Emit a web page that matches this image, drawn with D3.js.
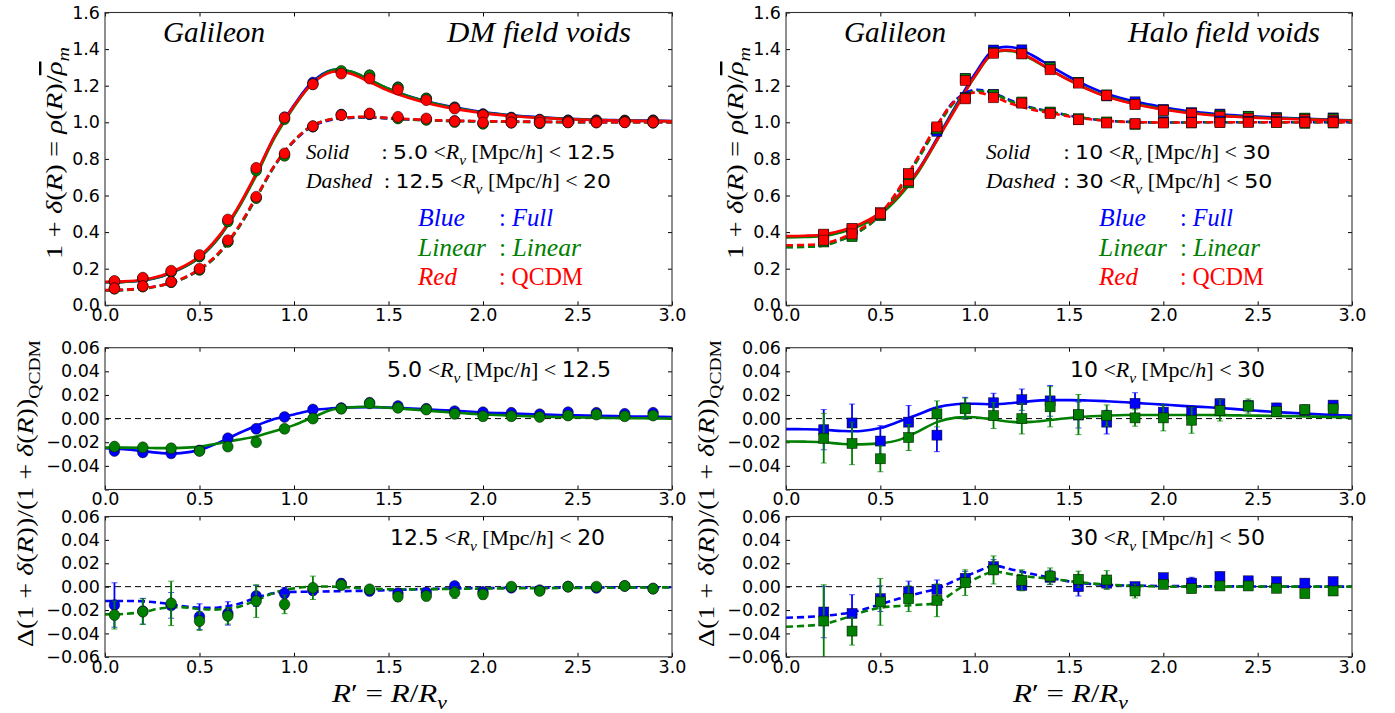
<!DOCTYPE html>
<html><head><meta charset="utf-8">
<script src="https://cdn.jsdelivr.net/npm/d3@7"></script>
<style>body{margin:0;background:#fff}svg{display:block}text{white-space:pre}</style>
</head><body>
<script>
// ---------------- DATA ----------------
const xTickVals = [0, 0.5, 1.0, 1.5, 2.0, 2.5, 3.0];
const yTickTop = [0, 0.2, 0.4, 0.6, 0.8, 1.0, 1.2, 1.4, 1.6];
const yTickDelta = [-0.06, -0.04, -0.02, 0, 0.02, 0.04, 0.06];

const rDM = [0.05,0.2,0.35,0.5,0.65,0.8,0.95,1.1,1.25,1.4,1.55,1.7,1.85,2.0,2.15,2.3,2.45,2.6,2.75,2.9];
const rHalo = [0.2,0.35,0.5,0.65,0.8,0.95,1.1,1.25,1.4,1.55,1.7,1.85,2.0,2.15,2.3,2.45,2.6,2.75,2.9];
const rFit = [0,0.1,0.2,0.3,0.4,0.5,0.6,0.7,0.8,0.9,1.0,1.1,1.2,1.3,1.4,1.5,1.6,1.7,1.8,1.9,2.0,2.1,2.2,2.3,2.4,2.5,2.6,2.7,2.8,2.9,3.0];

// DM field voids: profile points
const dmSolidQCDM   = [0.133,0.151,0.189,0.275,0.469,0.751,1.026,1.208,1.266,1.239,1.179,1.121,1.075,1.039,1.021,1.011,1.006,1.006,1.006,1.006];
const dmSolidFull   = [0.129,0.147,0.183,0.268,0.461,0.745,1.027,1.217,1.277,1.256,1.191,1.130,1.082,1.045,1.026,1.015,1.011,1.011,1.010,1.011];
const dmSolidLinear = [0.130,0.147,0.184,0.267,0.458,0.736,1.017,1.208,1.281,1.257,1.190,1.130,1.079,1.041,1.023,1.012,1.009,1.009,1.008,1.009];
const dmDashQCDM    = [0.093,0.105,0.129,0.200,0.356,0.593,0.830,0.979,1.039,1.048,1.030,1.021,1.006,0.999,0.999,0.999,1.000,1.000,1.000,1.000];
const dmDashFull    = [0.092,0.103,0.127,0.195,0.348,0.588,0.825,0.976,1.042,1.044,1.024,1.016,1.007,0.994,0.998,0.996,1.000,0.999,1.001,0.998];
const dmDashLinear  = [0.091,0.103,0.127,0.194,0.347,0.586,0.817,0.978,1.040,1.046,1.021,1.013,1.001,0.992,0.999,0.995,1.000,1.000,1.001,0.998];
// DM field voids: fitted profiles
const dmSolidFitQCDM   = [0.129,0.131,0.140,0.163,0.205,0.268,0.375,0.530,0.720,0.930,1.090,1.215,1.275,1.265,1.220,1.172,1.135,1.106,1.083,1.065,1.050,1.039,1.030,1.024,1.019,1.015,1.012,1.010,1.008,1.007,1.006];
const dmSolidFitFull   = [0.126,0.128,0.136,0.158,0.199,0.261,0.367,0.523,0.716,0.930,1.094,1.224,1.286,1.277,1.232,1.183,1.145,1.115,1.091,1.072,1.056,1.044,1.034,1.028,1.022,1.018,1.014,1.012,1.010,1.009,1.007];
const dmSolidFitLinear = [0.126,0.128,0.137,0.159,0.200,0.262,0.367,0.520,0.709,0.920,1.084,1.216,1.285,1.277,1.232,1.183,1.144,1.114,1.089,1.070,1.054,1.042,1.032,1.026,1.020,1.016,1.013,1.010,1.008,1.007,1.006];
const dmDashFitQCDM    = [0.083,0.085,0.093,0.110,0.143,0.198,0.285,0.420,0.593,0.770,0.900,0.984,1.018,1.028,1.030,1.024,1.018,1.013,1.010,1.008,1.006,1.005,1.004,1.003,1.002,1.002,1.001,1.001,1.001,1.000,1.000];
const dmDashFitFull    = [0.082,0.084,0.092,0.109,0.141,0.194,0.280,0.414,0.587,0.766,0.896,0.980,1.014,1.024,1.026,1.021,1.015,1.011,1.008,1.007,1.005,1.004,1.003,1.002,1.002,1.001,1.001,1.001,1.000,1.000,1.000];
const dmDashFitLinear  = [0.081,0.083,0.091,0.108,0.140,0.194,0.279,0.413,0.586,0.766,0.899,0.984,1.018,1.027,1.028,1.022,1.016,1.011,1.008,1.006,1.004,1.003,1.002,1.002,1.001,1.001,1.001,1.000,1.000,1.000,1.000];
// DM field voids: relative differences
const dmSolidDeltaFull   = [-0.0274,-0.0286,-0.0294,-0.0270,-0.0166,-0.0086,0.0014,0.0077,0.0089,0.0134,0.0106,0.0083,0.0063,0.0054,0.0049,0.0037,0.0054,0.0049,0.0040,0.0049];
const dmSolidDeltaLinear = [-0.0237,-0.0243,-0.0251,-0.0274,-0.0237,-0.0200,-0.0086,0.0000,0.0083,0.0129,0.0091,0.0077,0.0040,0.0020,0.0020,0.0014,0.0026,0.0034,0.0020,0.0026];
const dmDashDeltaFull    = [-0.0157,-0.0210,-0.0160,-0.0257,-0.0229,-0.0080,-0.0057,-0.0031,0.0026,-0.0037,-0.0057,-0.0050,0.0006,-0.0046,-0.0009,-0.0030,0.0000,-0.0010,0.0006,-0.0017];
const dmDashDeltaFullErr = [0.019,0.011,0.011,0.011,0.010,0.009,0.005,0.004,0.004,0.004,0.004,0.003,0.003,0.003,0.002,0.002,0.002,0.002,0.002,0.002];
const dmDashDeltaLinear  = [-0.0243,-0.0214,-0.0143,-0.0294,-0.0250,-0.0123,-0.0151,-0.0010,0.0014,-0.0023,-0.0086,-0.0080,-0.0051,-0.0066,0.0000,-0.0037,0.0000,0.0000,0.0006,-0.0017];
const dmDashDeltaLinearErr = [0.012,0.011,0.019,0.008,0.007,0.014,0.008,0.010,0.004,0.003,0.004,0.004,0.005,0.004,0.002,0.002,0.002,0.002,0.002,0.002];
const dmSolidDeltaFitFull   = [-0.0251,-0.0260,-0.0275,-0.0292,-0.0292,-0.0266,-0.0205,-0.0130,-0.0060,-0.0002,0.0035,0.0071,0.0087,0.0095,0.0097,0.0094,0.0088,0.0078,0.0070,0.0062,0.0052,0.0046,0.0040,0.0035,0.0030,0.0027,0.0024,0.0021,0.0018,0.0016,0.0014];
const dmSolidDeltaFitLinear = [-0.0246,-0.0246,-0.0247,-0.0250,-0.0248,-0.0237,-0.0210,-0.0180,-0.0151,-0.0105,-0.0055,0.0011,0.0075,0.0095,0.0100,0.0092,0.0080,0.0068,0.0056,0.0045,0.0035,0.0028,0.0022,0.0017,0.0013,0.0010,0.0007,0.0005,0.0003,0.0002,0.0000];
const dmDashDeltaFitFull    = [-0.0123,-0.0123,-0.0125,-0.0140,-0.0165,-0.0180,-0.0178,-0.0150,-0.0095,-0.0055,-0.0045,-0.0043,-0.0040,-0.0037,-0.0035,-0.0030,-0.0025,-0.0020,-0.0017,-0.0014,-0.0012,-0.0011,-0.0010,-0.0009,-0.0008,-0.0008,-0.0007,-0.0006,-0.0006,-0.0005,-0.0005];
const dmDashDeltaFitLinear  = [-0.0237,-0.0233,-0.0217,-0.0185,-0.0175,-0.0192,-0.0195,-0.0175,-0.0117,-0.0050,-0.0015,0.0000,0.0000,-0.0008,-0.0017,-0.0022,-0.0023,-0.0022,-0.0020,-0.0018,-0.0017,-0.0015,-0.0014,-0.0013,-0.0012,-0.0011,-0.0010,-0.0009,-0.0008,-0.0007,-0.0006];

// Halo field voids: profile points
const haloSolidQCDM   = [0.389,0.420,0.507,0.680,0.965,1.228,1.377,1.374,1.287,1.214,1.147,1.098,1.065,1.047,1.032,1.022,1.017,1.015,1.012];
const haloSolidFull   = [0.385,0.418,0.497,0.678,0.951,1.239,1.395,1.396,1.306,1.218,1.144,1.112,1.071,1.053,1.045,1.033,1.026,1.022,1.024];
const haloSolidLinear = [0.383,0.411,0.490,0.669,0.969,1.238,1.381,1.374,1.300,1.218,1.150,1.099,1.066,1.046,1.039,1.033,1.023,1.023,1.020];
const haloDashQCDM    = [0.356,0.390,0.500,0.720,0.975,1.128,1.134,1.105,1.047,1.014,0.996,0.992,0.996,0.998,0.998,1.000,1.000,1.000,1.000];
const haloDashFull    = [0.348,0.381,0.495,0.717,0.973,1.136,1.153,1.106,1.055,1.014,0.999,0.992,1.004,1.001,1.007,1.005,1.004,1.003,1.004];
const haloDashLinear  = [0.346,0.375,0.494,0.713,0.964,1.132,1.150,1.111,1.056,1.020,1.002,0.988,0.998,0.996,0.999,1.001,0.999,0.994,0.996];
// Halo field voids: fitted profiles
const haloSolidFitQCDM   = [0.378,0.380,0.387,0.410,0.448,0.507,0.605,0.735,0.902,1.075,1.250,1.379,1.392,1.350,1.288,1.230,1.180,1.139,1.111,1.088,1.070,1.055,1.044,1.035,1.029,1.024,1.020,1.017,1.014,1.011,1.008];
const haloSolidFitFull   = [0.375,0.377,0.383,0.405,0.443,0.503,0.603,0.738,0.910,1.090,1.262,1.396,1.410,1.369,1.308,1.249,1.198,1.156,1.126,1.102,1.083,1.066,1.054,1.044,1.037,1.031,1.026,1.022,1.018,1.014,1.011];
const haloSolidFitLinear = [0.371,0.373,0.379,0.401,0.438,0.497,0.594,0.727,0.900,1.081,1.247,1.378,1.388,1.346,1.286,1.231,1.182,1.142,1.114,1.091,1.073,1.058,1.047,1.038,1.032,1.027,1.022,1.019,1.016,1.012,1.009];
const haloDashFitQCDM    = [0.328,0.330,0.338,0.370,0.420,0.502,0.640,0.810,0.984,1.120,1.163,1.139,1.100,1.070,1.051,1.032,1.018,1.008,1.002,1.000,0.999,0.999,1.000,1.000,1.000,1.000,1.000,1.000,1.000,1.000,1.000];
const haloDashFitFull    = [0.319,0.321,0.329,0.361,0.412,0.494,0.634,0.806,0.982,1.124,1.177,1.159,1.116,1.081,1.059,1.037,1.020,1.009,1.003,1.000,0.999,0.999,1.000,1.000,1.000,1.000,1.000,1.000,1.000,1.000,1.000];
const haloDashFitLinear  = [0.317,0.319,0.327,0.360,0.411,0.493,0.629,0.798,0.970,1.115,1.170,1.154,1.111,1.078,1.058,1.037,1.021,1.010,1.003,1.000,0.999,0.999,1.000,1.000,1.000,1.000,1.000,1.000,1.000,1.000,1.000];
// Halo field voids: relative differences
const haloSolidDeltaFull      = [-0.0094,-0.0037,-0.0190,-0.0030,-0.0140,0.0090,0.0134,0.0160,0.0150,0.0030,-0.0030,0.0129,0.0054,0.0060,0.0126,0.0110,0.0090,0.0070,0.0114];
const haloSolidDeltaFullErr   = [0.017,0.016,0.013,0.014,0.014,0.009,0.008,0.009,0.013,0.011,0.010,0.009,0.006,0.005,0.004,0.004,0.004,0.003,0.003];
const haloSolidDeltaLinear    = [-0.0166,-0.0210,-0.0340,-0.0160,0.0040,0.0083,0.0026,0.0000,0.0100,0.0034,0.0026,0.0006,0.0006,-0.0014,0.0069,0.0106,0.0060,0.0077,0.0083];
const haloSolidDeltaLinearErr = [0.021,0.018,0.011,0.011,0.011,0.009,0.011,0.013,0.017,0.017,0.009,0.007,0.011,0.011,0.009,0.006,0.004,0.004,0.003];
const haloDashDeltaFull       = [-0.0217,-0.0229,-0.0103,-0.0043,-0.0023,0.0071,0.0171,0.0011,0.0080,0.0000,0.0030,0.0000,0.0077,0.0030,0.0086,0.0050,0.0043,0.0030,0.0043];
const haloDashDeltaFullErr    = [0.022,0.016,0.011,0.009,0.008,0.006,0.006,0.004,0.006,0.008,0.005,0.003,0.003,0.005,0.004,0.003,0.003,0.003,0.003];
const haloDashDeltaLinear     = [-0.0294,-0.0380,-0.0130,-0.0103,-0.0117,0.0034,0.0143,0.0054,0.0090,0.0063,0.0057,-0.0037,0.0020,-0.0017,0.0006,0.0006,-0.0014,-0.0060,-0.0037];
const haloDashDeltaLinearErr  = [0.031,0.012,0.020,0.011,0.014,0.011,0.012,0.009,0.007,0.007,0.008,0.006,0.003,0.003,0.003,0.003,0.003,0.003,0.003];
const haloSolidDeltaFitFull   = [-0.0089,-0.0090,-0.0094,-0.0105,-0.0105,-0.0080,-0.0025,0.0035,0.0095,0.0122,0.0126,0.0121,0.0132,0.0148,0.0156,0.0156,0.0153,0.0147,0.0138,0.0128,0.0118,0.0108,0.0099,0.0090,0.0078,0.0066,0.0055,0.0046,0.0038,0.0031,0.0026];
const haloSolidDeltaFitLinear = [-0.0194,-0.0195,-0.0200,-0.0215,-0.0218,-0.0210,-0.0180,-0.0110,-0.0030,0.0008,0.0012,-0.0008,-0.0028,-0.0028,-0.0012,0.0005,0.0018,0.0025,0.0030,0.0030,0.0030,0.0030,0.0030,0.0029,0.0027,0.0025,0.0022,0.0020,0.0017,0.0014,0.0010];
const haloDashDeltaFitFull    = [-0.0266,-0.0260,-0.0250,-0.0232,-0.0200,-0.0150,-0.0102,-0.0058,-0.0017,0.0055,0.0120,0.0177,0.0145,0.0110,0.0077,0.0045,0.0025,0.0015,0.0010,0.0008,0.0005,0.0004,0.0003,0.0002,0.0002,0.0001,0.0001,0,0,0,0];
const haloDashDeltaFitLinear  = [-0.0343,-0.0335,-0.0320,-0.0275,-0.0220,-0.0180,-0.0165,-0.0155,-0.0137,-0.0035,0.0065,0.0126,0.0105,0.0083,0.0069,0.0048,0.0030,0.0018,0.0010,0.0005,0,0,0,0,0,0,0,0,0,0,0];

// ---------------- DRAWING ----------------
const W = 1395, H = 713;
const C_FULL = '#0000ff', C_LIN = '#008000', C_QCDM = '#ff0000';
const SERIF = "'Liberation Serif', 'DejaVu Serif', serif";
const SANS = "'DejaVu Sans', sans-serif";

const svg = d3.select('body').append('svg').attr('width', W).attr('height', H);
svg.append('rect').attr('width', W).attr('height', H).attr('fill', '#fff');

const cols = [{x0: 105, x1: 672}, {x0: 786, x1: 1352}];
const rows = {
  top: {y0: 305.3, y1: 12.5, dom: [0, 1.6], ticks: yTickTop, fmt: d3.format('.1f')},
  mid: {y0: 489.5, y1: 347.7, dom: [-0.06, 0.06], ticks: yTickDelta, fmt: d => Math.abs(d + 0.06) < 1e-9 ? '' : d3.format('.2f')(d)},
  bot: {y0: 656.8, y1: 516.5, dom: [-0.06, 0.06], ticks: yTickDelta, fmt: d3.format('.2f')}
};

function panel(ci, rk) {
  const c = cols[ci], r = rows[rk];
  const x = d3.scaleLinear().domain([0, 3]).range([c.x0, c.x1]);
  const y = d3.scaleLinear().domain(r.dom).range([r.y0, r.y1]);
  const g = svg.append('g');
  const clipId = 'clip' + ci + rk;
  g.append('clipPath').attr('id', clipId).append('rect')
    .attr('x', c.x0).attr('y', r.y1).attr('width', c.x1 - c.x0).attr('height', r.y0 - r.y1);
  const axes = g.append('g');
  const styleAxis = sel => {
    sel.select('.domain').remove();
    sel.selectAll('.tick line').attr('stroke', '#000').attr('stroke-width', 1);
    sel.selectAll('.tick text').attr('font-family', SANS).attr('font-size', 17.5).attr('fill', '#000');
  };
  axes.append('g').attr('transform', `translate(0,${r.y0})`)
    .call(d3.axisBottom(x).tickValues(xTickVals).tickFormat(d3.format('.1f')).tickSizeInner(-4).tickSizeOuter(0).tickPadding(3.5)).call(styleAxis);
  axes.append('g').attr('transform', `translate(0,${r.y1})`)
    .call(d3.axisTop(x).tickValues(xTickVals).tickFormat('').tickSizeInner(-4).tickSizeOuter(0)).call(styleAxis);
  axes.append('g').attr('transform', `translate(${c.x0},0)`)
    .call(d3.axisLeft(y).tickValues(r.ticks).tickFormat(r.fmt).tickSizeInner(-4).tickSizeOuter(0).tickPadding(5)).call(styleAxis);
  axes.append('g').attr('transform', `translate(${c.x1},0)`)
    .call(d3.axisRight(y).tickValues(r.ticks).tickFormat('').tickSizeInner(-4).tickSizeOuter(0)).call(styleAxis);
  const plot = g.append('g').attr('clip-path', `url(#${clipId})`);
  g.append('rect').attr('x', c.x0).attr('y', r.y1).attr('width', c.x1 - c.x0).attr('height', r.y0 - r.y1)
    .attr('fill', 'none').attr('stroke', '#333').attr('stroke-width', 1.1);
  return {x, y, plot, g};
}

function fitLine(p, xs, ys, color, dashed) {
  const line = d3.line().x((d, i) => p.x(xs[i])).y(d => p.y(d)).curve(d3.curveCatmullRom.alpha(0.5));
  p.plot.append('path').datum(ys).attr('d', line).attr('fill', 'none')
    .attr('stroke', color).attr('stroke-width', 2.6)
    .attr('stroke-dasharray', dashed ? '7,4' : null);
}
function zeroLine(p) {
  p.plot.append('line').attr('x1', p.x(0)).attr('x2', p.x(3)).attr('y1', p.y(0)).attr('y2', p.y(0))
    .attr('stroke', '#000').attr('stroke-width', 1).attr('stroke-dasharray', '6,4');
}
function errBars(p, xs, ys, es, color) {
  const g = p.plot.append('g');
  xs.forEach((xv, i) => {
    const cx = p.x(xv), lo = p.y(ys[i] - es[i]), hi = p.y(ys[i] + es[i]);
    g.append('line').attr('x1', cx).attr('x2', cx).attr('y1', lo).attr('y2', hi).attr('stroke', color).attr('stroke-width', 1.8);
    [lo, hi].forEach(yy => g.append('line').attr('x1', cx - 3).attr('x2', cx + 3).attr('y1', yy).attr('y2', yy)
      .attr('stroke', color).attr('stroke-width', 1).attr('opacity', 0.7));
  });
}
function markers(p, xs, ys, color, shape) {
  const g = p.plot.append('g');
  xs.forEach((xv, i) => {
    const cx = p.x(xv), cy = p.y(ys[i]);
    if (shape === 'circle') {
      g.append('ellipse').attr('cx', cx).attr('cy', cy).attr('rx', 5.3).attr('ry', 5.5)
        .attr('fill', color).attr('stroke', '#000').attr('stroke-width', 0.6).attr('stroke-opacity', 0.8);
    } else {
      g.append('rect').attr('x', cx - 5).attr('y', cy - 5).attr('width', 10).attr('height', 10)
        .attr('fill', color).attr('stroke', '#000').attr('stroke-width', 0.6).attr('stroke-opacity', 0.8);
    }
  });
}

// rich math-like text
function rich(parent, x, y, parts, size, width, color, opts) {
  opts = opts || {};
  const t = parent.append('text').attr('x', x).attr('y', y).attr('font-size', size)
    .attr('fill', color || '#000').attr('font-family', SERIF);
  if (opts.transform) t.attr('transform', opts.transform);
  if (opts.anchor) t.attr('text-anchor', opts.anchor);
  let shift = 0;
  parts.forEach(pt => {
    const ts = t.append('tspan').text(pt.t);
    ts.attr('font-family', pt.f === 's' ? SANS : SERIF).attr('font-style', pt.i ? 'italic' : 'normal');
    const target = pt.sub ? 0.28 * size : 0;
    if (target - shift !== 0) ts.attr('dy', target - shift);
    shift = target;
    if (pt.sub) ts.attr('font-size', size * 0.7);
    if (pt.bar) ts.attr('text-decoration', 'overline');
  });
  if (width) t.attr('textLength', width).attr('lengthAdjust', 'spacingAndGlyphs');
  return t;
}
const I = t => ({t, i: true}), R = t => ({t}), S = t => ({t, f: 's'}), SUB = t => ({t, i: true, sub: true}), SUBR = t => ({t, sub: true});
const BAR = t => ({t, i: true, bar: true});
function rangeParts(lo, hi) {
  return [S(lo), R(' <'), I('R'), SUB('v'), R(' [Mpc/'), I('h'), R(']'), R(' < '), S(hi)];
}

// ---- panels ----
const colSpec = [
  {
    shape: 'circle', r: rDM, dx: 0,
    title: 'DM field voids', titleX: 447, titleW: 184,
    solidRange: ['5.0', '12.5'], dashRange: ['12.5', '20'],
    solid: {q: dmSolidQCDM, f: dmSolidFull, l: dmSolidLinear, fq: dmSolidFitQCDM, ff: dmSolidFitFull, fl: dmSolidFitLinear},
    dash: {q: dmDashQCDM, f: dmDashFull, l: dmDashLinear, fq: dmDashFitQCDM, ff: dmDashFitFull, fl: dmDashFitLinear},
    mid: {f: dmSolidDeltaFull, l: dmSolidDeltaLinear, fe: null, le: null, ff: dmSolidDeltaFitFull, fl: dmSolidDeltaFitLinear},
    bot: {f: dmDashDeltaFull, l: dmDashDeltaLinear, fe: dmDashDeltaFullErr, le: dmDashDeltaLinearErr, ff: dmDashDeltaFitFull, fl: dmDashDeltaFitLinear},
    leg: {lab: 306, colonS: 381.5, colonD: 384, restS: 234, restD: 227, solidW: 43, dashW: 66, midW: 224, botW: 215},
  },
  {
    shape: 'square', r: rHalo, dx: 681,
    title: 'Halo field voids', titleX: 1128, titleW: 192,
    solidRange: ['10', '30'], dashRange: ['30', '50'],
    solid: {q: haloSolidQCDM, f: haloSolidFull, l: haloSolidLinear, fq: haloSolidFitQCDM, ff: haloSolidFitFull, fl: haloSolidFitLinear},
    dash: {q: haloDashQCDM, f: haloDashFull, l: haloDashLinear, fq: haloDashFitQCDM, ff: haloDashFitFull, fl: haloDashFitLinear},
    mid: {f: haloSolidDeltaFull, l: haloSolidDeltaLinear, fe: haloSolidDeltaFullErr, le: haloSolidDeltaLinearErr, ff: haloSolidDeltaFitFull, fl: haloSolidDeltaFitLinear},
    bot: {f: haloDashDeltaFull, l: haloDashDeltaLinear, fe: haloDashDeltaFullErr, le: haloDashDeltaLinearErr, ff: haloDashDeltaFitFull, fl: haloDashDeltaFitLinear},
    leg: {lab: 986, colonS: 1063.5, colonD: 1063.5, restS: 207, restD: 209, solidW: 44, dashW: 69, midW: 195, botW: 195},
  }
];

colSpec.forEach((cs, ci) => {
  const dx = cs.dx;
  // top panel
  const pt = panel(ci, 'top');
  [cs.solid, cs.dash].forEach((b, k) => {
    fitLine(pt, rFit, b.ff, C_FULL, k === 1);
    fitLine(pt, rFit, b.fl, C_LIN, k === 1);
    fitLine(pt, rFit, b.fq, C_QCDM, k === 1);
  });
  [cs.solid, cs.dash].forEach(b => {
    markers(pt, cs.r, b.f, C_FULL, cs.shape);
    markers(pt, cs.r, b.l, C_LIN, cs.shape);
    markers(pt, cs.r, b.q, C_QCDM, cs.shape);
  });
  // titles
  rich(svg, 163 + dx, 42, [I('Galileon')], 29, 102);
  rich(svg, cs.titleX, 42, [I(cs.title)], 29, cs.titleW);
  // legend
  const L = cs.leg;
  rich(svg, L.lab, 159, [I('Solid')], 20, L.solidW);
  rich(svg, L.colonS, 159, [R(': ')].concat(rangeParts(cs.solidRange[0], cs.solidRange[1])), 20, L.restS);
  rich(svg, L.lab, 188, [I('Dashed')], 20, L.dashW);
  rich(svg, L.colonD, 188, [R(': ')].concat(rangeParts(cs.dashRange[0], cs.dashRange[1])), 20, L.restD);
  const bx = 418 + dx, cx = 499 + dx;
  rich(svg, bx, 226, [I('Blue')], 25, 47, C_FULL);
  rich(svg, cx, 226, [R(': '), I('Full')], 25, ci ? 53 : 54, C_FULL);
  rich(svg, bx, 256, [I('Linear')], 25, 68, C_LIN);
  rich(svg, cx, 256, [R(': '), I('Linear')], 25, ci ? 80 : 82, C_LIN);
  rich(svg, bx, 285, [I('Red')], 25, 39, C_QCDM);
  rich(svg, cx, 285, [R(': QCDM')], 25, 84, C_QCDM);

  // middle panel (solid bin differences)
  const pm = panel(ci, 'mid');
  zeroLine(pm);
  fitLine(pm, rFit, cs.mid.ff, C_FULL, false);
  fitLine(pm, rFit, cs.mid.fl, C_LIN, false);
  if (cs.mid.fe) errBars(pm, cs.r, cs.mid.f, cs.mid.fe, C_FULL);
  markers(pm, cs.r, cs.mid.f, C_FULL, cs.shape);
  if (cs.mid.le) errBars(pm, cs.r, cs.mid.l, cs.mid.le, C_LIN);
  markers(pm, cs.r, cs.mid.l, C_LIN, cs.shape);
  rich(svg, (ci ? 1070 : 387), 377, rangeParts(cs.solidRange[0], cs.solidRange[1]), 20.5, L.midW);

  // bottom panel (dashed bin differences)
  const pb = panel(ci, 'bot');
  zeroLine(pb);
  fitLine(pb, rFit, cs.bot.ff, C_FULL, true);
  fitLine(pb, rFit, cs.bot.fl, C_LIN, true);
  errBars(pb, cs.r, cs.bot.f, cs.bot.fe, C_FULL);
  markers(pb, cs.r, cs.bot.f, C_FULL, cs.shape);
  errBars(pb, cs.r, cs.bot.l, cs.bot.le, C_LIN);
  markers(pb, cs.r, cs.bot.l, C_LIN, cs.shape);
  rich(svg, (ci ? 1070 : 390), 545, rangeParts(cs.dashRange[0], cs.dashRange[1]), 20.5, L.botW);

  // axis labels
  rich(svg, 0, 0, [R('1 + '), I('δ'), R('('), I('R'), R(') = '), I('ρ'), R('('), I('R'), R(')/'), BAR('ρ'), SUB('m')], 24, 212, '#000',
    {transform: `translate(${62 + dx},153) rotate(-90)`, anchor: 'middle'});
  rich(svg, 0, 0, [R('Δ(1 + '), I('δ'), R('('), I('R'), R('))/(1 + '), I('δ'), R('('), I('R'), R('))'), SUBR('QCDM')], 24, 307, '#000',
    {transform: `translate(${33 + dx},493.5) rotate(-90)`, anchor: 'middle'});
  rich(svg, 332 + dx, 702, [I('R'), R('′ = '), I('R'), R('/'), I('R'), SUB('v')], 26, 115);
});
</script>
</body></html>
